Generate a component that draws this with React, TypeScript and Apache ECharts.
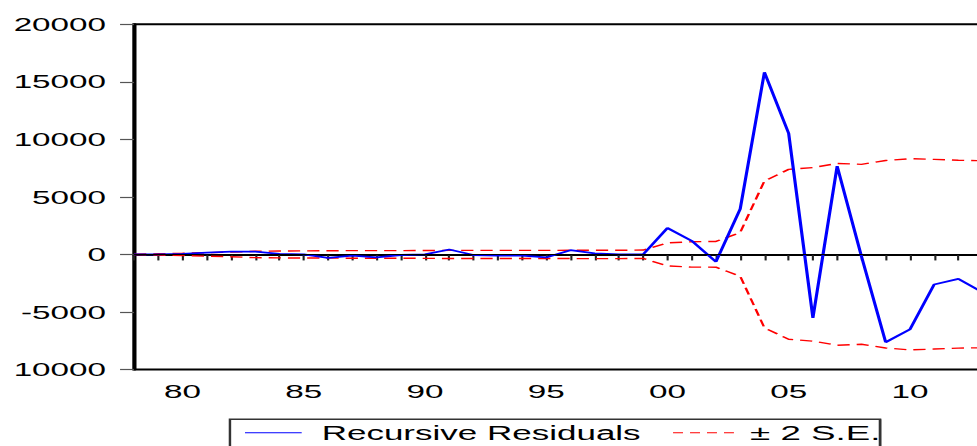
import React, { useEffect, useRef } from "react";
import * as echarts from "echarts";

// ---- data ----
const years = [
  1978, 1979, 1980, 1981, 1982, 1983, 1984, 1985, 1986, 1987, 1988, 1989,
  1990, 1991, 1992, 1993, 1994, 1995, 1996, 1997, 1998, 1999, 2000, 2001,
  2002, 2003, 2004, 2005, 2006, 2007, 2008, 2009, 2010, 2011, 2012, 2013,
];
const recursiveResiduals = [
  0, 0, 50, 150, 250, 250, 50, 0, -300, -100, -250, -50,
  0, 430, -50, -100, -100, -260, 370, 90, 0, 0, 2300, 1180,
  -640, 3940, 15830, 10520, -5510, 7680, -150, -7630, -6520, -2610, -2120, -3300,
];
const upperBand = [
  20, 60, 100, 150, 200, 280, 300, 310, 320, 330, 330, 330,
  340, 350, 350, 350, 350, 350, 360, 360, 360, 380, 1000, 1100,
  1130, 1900, 6380, 7390, 7550, 7910, 7830, 8160, 8320, 8260, 8190, 8140,
];
const lowerBand = [
  -20, -60, -100, -150, -200, -280, -300, -310, -320, -330, -330, -330,
  -340, -350, -350, -350, -350, -350, -360, -360, -360, -350, -990, -1100,
  -1110, -1890, -6380, -7370, -7540, -7890, -7810, -8130, -8300, -8220, -8140, -8110,
];
const xLabelYears = [1980, 1985, 1990, 1995, 2000, 2005, 2010];
const xLabelTexts = ["80", "85", "90", "95", "00", "05", "10"];
const yTickValues = [-10000, -5000, 0, 5000, 10000, 15000, 20000];
const yTickTexts = ["10000", "-5000", "0", "5000", "10000", "15000", "20000"];
const legendNames = ["Recursive Residuals", "± 2 S.E."];

const STRETCH = 1.75;
const FONT = "'Liberation Sans', Arial, sans-serif";

export default function App() {
  const ref = useRef<HTMLDivElement>(null);

  useEffect(() => {
    if (!ref.current) return;
    const chart = echarts.init(ref.current, null, { renderer: "svg" });
    const pairs = (vals: number[]) => years.map((y, i) => [y, vals[i]]);

    chart.setOption({
      animation: false,
      backgroundColor: "#ffffff",
      grid: {
        left: 76.6,
        top: 24.3,
        right: 3.5,
        bottom: 76.5,
        show: true,
        borderColor: "#000",
        borderWidth: 2,
        backgroundColor: "transparent",
      },
      xAxis: {
        type: "value",
        min: 1978,
        max: 2013,
        interval: 1,
        splitLine: { show: false },
        axisLine: { show: true, lineStyle: { color: "#000", width: 2 } },
        axisTick: { show: true, length: 6, lineStyle: { color: "#222", width: 1.2 } },
        axisLabel: {
          show: true,
          margin: 12,
          fontSize: 19,
          fontFamily: FONT,
          color: "#000",
          showMinLabel: true,
          showMaxLabel: true,
          formatter: (v: number) => {
            const i = xLabelYears.indexOf(Math.round(v));
            return i >= 0 && Math.abs(v - Math.round(v)) < 1e-6 ? xLabelTexts[i] : "";
          },
        },
      },
      yAxis: {
        type: "value",
        min: -10000,
        max: 20000,
        interval: 5000,
        splitLine: { show: false },
        axisLine: { show: true, lineStyle: { color: "#000", width: 2 } },
        axisTick: { show: true, length: 8, lineStyle: { color: "#555", width: 1.2 } },
        axisLabel: {
          margin: 16,
          fontSize: 19,
          fontFamily: FONT,
          color: "#000",
          formatter: (v: number) => {
            const i = yTickValues.indexOf(v);
            return i >= 0 ? yTickTexts[i] : String(v);
          },
        },
      },
      series: [
        {
          name: legendNames[1] + " upper",
          type: "line",
          data: pairs(upperBand),
          showSymbol: false,
          symbol: "none",
          lineStyle: { color: "#ff0000", width: 1.4, type: [7, 4] },
          z: 3,
          markLine: {
            silent: true,
            symbol: "none",
            label: { show: false },
            lineStyle: { color: "#000", width: 1, type: "solid" },
            data: [{ yAxis: 0 }],
          },
        },
        {
          name: legendNames[1] + " lower",
          type: "line",
          data: pairs(lowerBand),
          showSymbol: false,
          symbol: "none",
          lineStyle: { color: "#ff0000", width: 1.4, type: [7, 4] },
          z: 3,
        },
        {
          name: legendNames[0],
          type: "line",
          data: pairs(recursiveResiduals),
          showSymbol: false,
          symbol: "none",
          lineStyle: { color: "#0000ff", width: 1.8 },
          z: 4,
        },
      ],
      graphic: [
        {
          type: "rect",
          shape: { x: 131.4, y: 419.3, width: 371.5, height: 40 },
          style: { fill: "#fff", stroke: "#333", lineWidth: 1.4 },
          z: 10,
        },
        {
          type: "line",
          shape: { x1: 140, y1: 432.7, x2: 172.4, y2: 432.7 },
          style: { stroke: "#0000ff", lineWidth: 1 },
          z: 11,
        },
        {
          type: "text",
          x: 183.8,
          y: 432.5,
          style: {
            text: legendNames[0],
            fill: "#000",
            font: `20px ${FONT}`,
            textVerticalAlign: "middle",
            verticalAlign: "middle",
          },
          z: 11,
        },
        {
          type: "line",
          shape: { x1: 384.6, y1: 432.7, x2: 422.9, y2: 432.7 },
          style: { stroke: "#ff0000", lineWidth: 1, lineDash: [5.7, 4] },
          z: 11,
        },
        {
          type: "text",
          x: 428.6,
          y: 432.5,
          style: {
            text: legendNames[1],
            fill: "#000",
            font: `21px ${FONT}`,
            textVerticalAlign: "middle",
            verticalAlign: "middle",
          },
          z: 11,
        },
        {
          type: "line",
          shape: { x1: 502.9, y1: 419.3, x2: 502.9, y2: 460 },
          style: { stroke: "#333", lineWidth: 1.4 },
          z: 12,
        },
      ],
    });

    return () => chart.dispose();
  }, []);

  return (
    <div
      style={{
        position: "fixed",
        left: 0,
        top: 0,
        width: 977,
        height: 446,
        overflow: "hidden",
        background: "#fff",
      }}
    >
      <div
        ref={ref}
        style={{
          width: 565,
          height: 446,
          transform: `scaleX(${STRETCH})`,
          transformOrigin: "0 0",
        }}
      />
    </div>
  );
}
